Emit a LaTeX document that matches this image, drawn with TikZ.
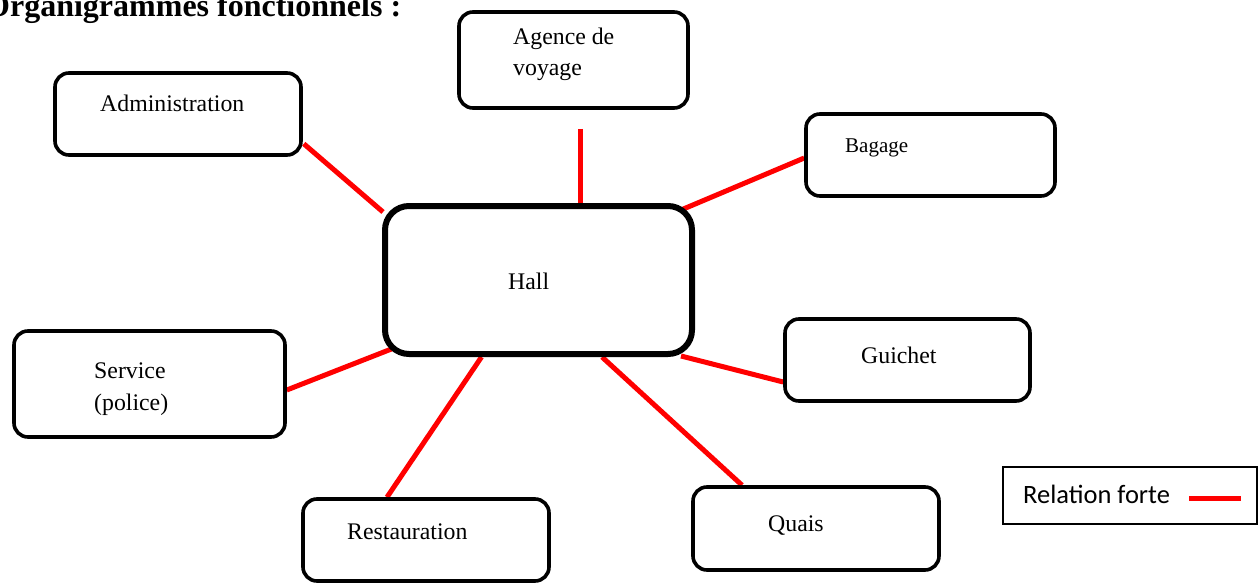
\documentclass[tikz,border=0pt]{standalone}
\usepackage{fontspec}
\setmainfont{Liberation Serif}
\newfontfamily\legfont{Carlito}
\usetikzlibrary{calc,backgrounds}
\tikzset{
  box/.style={draw=black, fill=white, line width=3.6pt, rounded corners=14pt, inner sep=0pt},
  hallbox/.style={draw=black, fill=white, line width=6pt, rounded corners=24pt, inner sep=0pt},
  lbl/.style={anchor=base west, inner sep=0pt, font=\fontsize{23.8pt}{28pt}\selectfont},
  rel/.style={draw=red, line width=5pt},
  legbox/.style={draw=black, line width=1.6pt, inner sep=0pt},
}
\begin{document}
\begin{tikzpicture}[x=1pt,y=-1pt]
\useasboundingbox (0,0) rectangle (1258,583);
% title
\node[anchor=base west, inner sep=0pt, font=\fontsize{32pt}{36pt}\selectfont\bfseries] (title) at (-15,17) {Organigrammes fonctionnels :};
% boxes
\node[box, minimum width=246pt, minimum height=82pt] (adm) at (178,114) {};
\node[box, minimum width=229pt, minimum height=96pt] (ag) at (573.5,60) {};
\node[box, minimum width=249pt, minimum height=82pt] (bag) at (930.5,155) {};
\node[hallbox, minimum width=307pt, minimum height=148pt] (hall) at (538.5,280) {};
\node[box, minimum width=245pt, minimum height=82pt] (gui) at (907.5,360) {};
\node[box, minimum width=271pt, minimum height=106pt] (svc) at (149.5,384) {};
\node[box, minimum width=246pt, minimum height=82pt] (rest) at (426,540) {};
\node[box, minimum width=246pt, minimum height=83pt] (quais) at (816,528.5) {};
% labels
\node[lbl] (admT) at (100,112) {Administration};
\node[lbl] (agT1) at (513,45) {Agence de};
\node[lbl] (agT2) at (513,76) {voyage};
\node[lbl, font=\fontsize{21pt}{25pt}\selectfont] (bagT) at (845,153) {Bagage};
\node[lbl] (hallT) at (508,289) {Hall};
\node[lbl] (guiT) at (861,363) {Guichet};
\node[lbl] (svcT1) at (94,378) {Service};
\node[lbl] (svcT2) at (94,410) {(police)};
\node[lbl] (restT) at (347,539) {Restauration};
\node[lbl] (quaisT) at (768,531) {Quais};
% legend
\node[legbox, minimum width=254pt, minimum height=57pt] (leg) at (1130,495.5) {};
\node[anchor=base west, inner sep=0pt, font=\legfont\fontsize{26.5pt}{30pt}\selectfont] (legT) at (1023,503) {Relation forte};
\coordinate (legA) at (1189,498);
\coordinate (legB) at (1241,498);
\draw[rel] (legA) -- (legB);
% connectors
\coordinate (agEnd) at ($(ag.south)+(6.5,19)$);
\begin{scope}[on background layer]
\draw[rel] ($(adm.south east)+(1,-13)$) -- ($(hall.north west)+(1,9)$);
\draw[rel] (agEnd) -- ($(hall.north)+(41.5,0)$);
\draw[rel] ($(bag.west)+(0,3)$) -- ($(hall.north east)+(-14,7)$);
\draw[rel] ($(gui.west)+(0,22)$) -- ($(hall.south east)+(-14,-1)$);
\draw[rel] ($(quais.north)+(-74,0)$) -- ($(hall.south)+(63.5,0)$);
\draw[rel] ($(rest.north)+(-39,0)$) -- ($(hall.south)+(-57,0)$);
\draw[rel] ($(svc.east)+(0,6)$) -- ($(hall.south west)+(12,-9)$);
\end{scope}
\end{tikzpicture}
\end{document}
